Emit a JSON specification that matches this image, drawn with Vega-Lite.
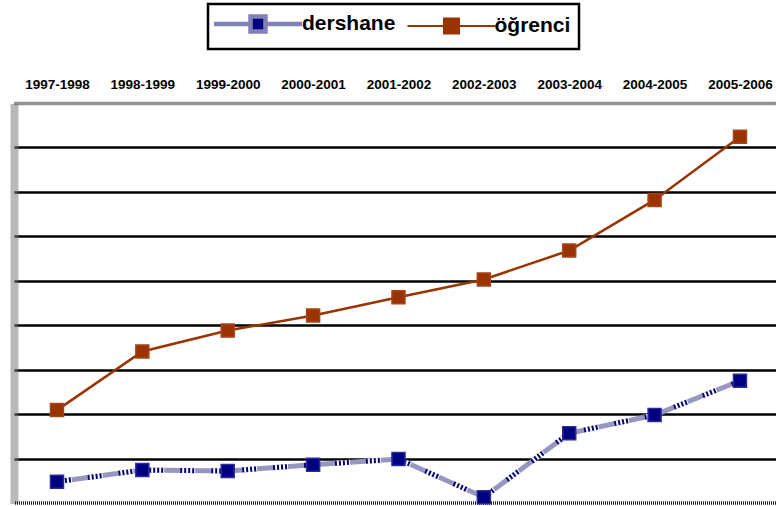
{
  "$schema": "https://vega.github.io/schema/vega-lite/v6.json",
  "width": 762,
  "height": 400,
  "autosize": {"type": "none"},
  "padding": {"left": 14, "top": 103, "right": 0, "bottom": 3},
  "background": "white",
  "config": {
    "view": {"stroke": null},
    "font": "Liberation Sans",
    "legend": {
      "orient": "none", "legendX": 194, "legendY": -99, "direction": "horizontal", "title": null,
      "symbolType": "M-5,0H-0.85M0.85,0H5M-0.85,-0.85H0.85V0.85H-0.85Z",
      "symbolSize": 310, "symbolOffset": 30, "labelOffset": 32.5,
      "labelFontSize": 21, "labelFontWeight": "bold", "labelFont": "Liberation Sans",
      "labelColor": "black", "labelLimit": 300, "padding": 8.5, "fillColor": "white",
      "strokeColor": "black", "strokeWidth": 2.5, "columnPadding": 7.5
    }
  },
  "data": {
    "values": [
      {"year": "1997-1998", "series": "dershane", "value": 0.48},
      {"year": "1998-1999", "series": "dershane", "value": 0.74},
      {"year": "1999-2000", "series": "dershane", "value": 0.72},
      {"year": "2000-2001", "series": "dershane", "value": 0.86},
      {"year": "2001-2002", "series": "dershane", "value": 0.99},
      {"year": "2002-2003", "series": "dershane", "value": 0.13},
      {"year": "2003-2004", "series": "dershane", "value": 1.57},
      {"year": "2004-2005", "series": "dershane", "value": 1.98},
      {"year": "2005-2006", "series": "dershane", "value": 2.75},
      {"year": "1997-1998", "series": "öğrenci", "value": 2.09},
      {"year": "1998-1999", "series": "öğrenci", "value": 3.41},
      {"year": "1999-2000", "series": "öğrenci", "value": 3.88},
      {"year": "2000-2001", "series": "öğrenci", "value": 4.22},
      {"year": "2001-2002", "series": "öğrenci", "value": 4.63},
      {"year": "2002-2003", "series": "öğrenci", "value": 5.03},
      {"year": "2003-2004", "series": "öğrenci", "value": 5.68},
      {"year": "2004-2005", "series": "öğrenci", "value": 6.82},
      {"year": "2005-2006", "series": "öğrenci", "value": 8.24}
    ]
  },
  "layer": [
    {
      "transform": [{"filter": "datum.series === 'dershane'"}],
      "mark": {"type": "line", "stroke": "#9696c0", "strokeWidth": 5},
      "encoding": {
        "x": {
          "field": "year", "type": "ordinal", "sort": null,
          "scale": {"type": "point", "padding": 0.4627, "align": 0.544},
          "axis": {
            "orient": "top", "title": null, "labelFontSize": 13.5, "labelFontWeight": "bold",
            "labelColor": "black", "labelPadding": 12, "ticks": false, "labelAngle": 0,
            "domainColor": "#222", "domainWidth": 3.5, "domainDash": [1, 1], "grid": false
          }
        },
        "y": {
          "field": "value", "type": "quantitative",
          "scale": {"domain": [0, 9], "nice": false},
          "axis": {
            "orient": "left", "title": null, "values": [1, 2, 3, 4, 5, 6, 7, 8],
            "labels": false, "ticks": false, "grid": true, "gridColor": "black", "gridWidth": 2.5,
            "domainColor": "#777", "domainWidth": 8, "domainDash": [1, 1]
          }
        }
      }
    },
    {
      "transform": [{"filter": "datum.series === 'dershane'"}],
      "mark": {"type": "line", "stroke": "white", "strokeWidth": 5, "strokeDash": [15, 16]},
      "encoding": {
        "x": {"field": "year", "type": "ordinal", "sort": null},
        "y": {"field": "value", "type": "quantitative"}
      }
    },
    {
      "transform": [{"filter": "datum.series === 'dershane'"}],
      "mark": {"type": "line", "stroke": "#000070", "strokeWidth": 5, "strokeDash": [2, 2, 2, 2, 2, 2, 2, 17]},
      "encoding": {
        "x": {"field": "year", "type": "ordinal", "sort": null},
        "y": {"field": "value", "type": "quantitative"}
      }
    },
    {
      "transform": [{"filter": "datum.series === 'öğrenci'"}],
      "mark": {"type": "line", "stroke": "#993300", "strokeWidth": 2.5},
      "encoding": {
        "x": {"field": "year", "type": "ordinal", "sort": null},
        "y": {"field": "value", "type": "quantitative"}
      }
    },
    {
      "data": {"values": [{}]},
      "mark": {"type": "rule", "stroke": "#222", "strokeWidth": 3.5, "strokeDash": [1, 1]},
      "encoding": {"y": {"datum": 0}}
    },
    {
      "mark": {"type": "square", "size": 4, "filled": true, "opacity": 1},
      "encoding": {
        "x": {"field": "year", "type": "ordinal", "sort": null},
        "y": {"field": "value", "type": "quantitative"},
        "color": {
          "field": "series", "type": "nominal",
          "scale": {"domain": ["dershane", "öğrenci"], "range": ["#000080", "#993300"]}
        },
        "stroke": {
          "field": "series", "type": "nominal",
          "scale": {"domain": ["dershane", "öğrenci"], "range": ["#8080b4", "#993300"]}
        },
        "strokeWidth": {
          "field": "series", "type": "ordinal",
          "scale": {"domain": ["dershane", "öğrenci"], "range": [4.5, 2]}
        }
      }
    },
    {
      "mark": {"type": "square", "size": 169, "filled": true, "opacity": 1, "strokeWidth": 1.5},
      "encoding": {
        "x": {"field": "year", "type": "ordinal", "sort": null},
        "y": {"field": "value", "type": "quantitative"},
        "color": {"condition": {"test": "datum.series === 'dershane'", "value": "#000080"}, "value": "#993300"},
        "stroke": {"condition": {"test": "datum.series === 'dershane'", "value": "#2a2a9a"}, "value": "#a8441a"}
      }
    }
  ]
}
